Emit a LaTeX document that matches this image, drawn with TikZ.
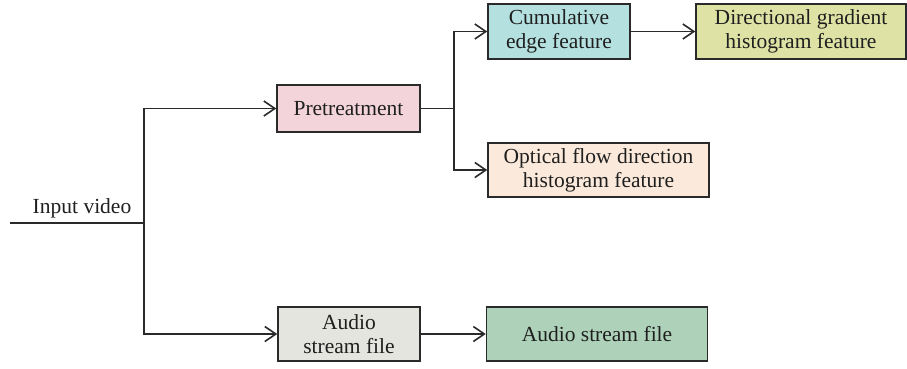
\documentclass[tikz,border=0pt]{standalone}
\usepackage{fontspec}
\setmainfont{Liberation Serif}
\usetikzlibrary{arrows.meta}
\definecolor{cpink}{HTML}{F2D4DA}
\definecolor{cgray}{HTML}{E4E5DF}
\definecolor{ccyan}{HTML}{B5E0E0}
\definecolor{colive}{HTML}{DEE3A5}
\definecolor{cpeach}{HTML}{FBEADB}
\definecolor{cgreen}{HTML}{AED2B9}
\definecolor{cline}{HTML}{2A2A2A}
\tikzset{
  box/.style={draw=cline, line width=1.5pt, inner sep=0pt, align=center,
    font=\fontsize{21.5}{24}\selectfont, text=black!88},
  conn/.style={draw=cline, line width=1.6pt},
  arr/.style={conn, -{Straight Barb[length=11pt,width=15pt,line width=1.6pt]}}
}
\begin{document}
\begin{tikzpicture}[x=1pt,y=-1pt]
\useasboundingbox (0,0) rectangle (907,368);
\node[box, fill=cpink, minimum width=143pt, minimum height=47pt] (pre) at (348.5,108.5) {Pretreatment};
\node[box, fill=cgray, minimum width=142pt, minimum height=54pt] (aud1) at (349,334) {Audio\\stream file};
\node[box, fill=ccyan, minimum width=142pt, minimum height=55pt] (cum) at (559,31.5) {Cumulative\\edge feature};
\node[box, fill=colive, minimum width=210pt, minimum height=55pt] (dir) at (801,31.5) {Directional gradient\\histogram feature};
\node[box, fill=cpeach, minimum width=221pt, minimum height=54pt] (opt) at (598.5,170) {Optical flow direction\\histogram feature};
\node[box, fill=cgreen, minimum width=221pt, minimum height=54pt] (aud2) at (597,334) {Audio stream file};
\node[font=\fontsize{21.5}{24}\selectfont, text=black!88, anchor=base, inner sep=0pt] (lbl) at (82,213) {Input video};
\coordinate (start) at (10,223);
\coordinate (j1) at (144,223);
\coordinate (j2) at (454,108.5);
\draw[conn] (start) -- (j1);
\draw[arr] (j1) |- (pre.west);
\draw[arr] (j1) |- (aud1.west);
\draw[conn] (pre.east) -- (j2);
\draw[arr] (j2) |- (cum.west);
\draw[arr] (j2) |- (opt.west);
\draw[arr] (cum.east) -- (dir.west);
\draw[arr] (aud1.east) -- (aud2.west);
\end{tikzpicture}
\end{document}
